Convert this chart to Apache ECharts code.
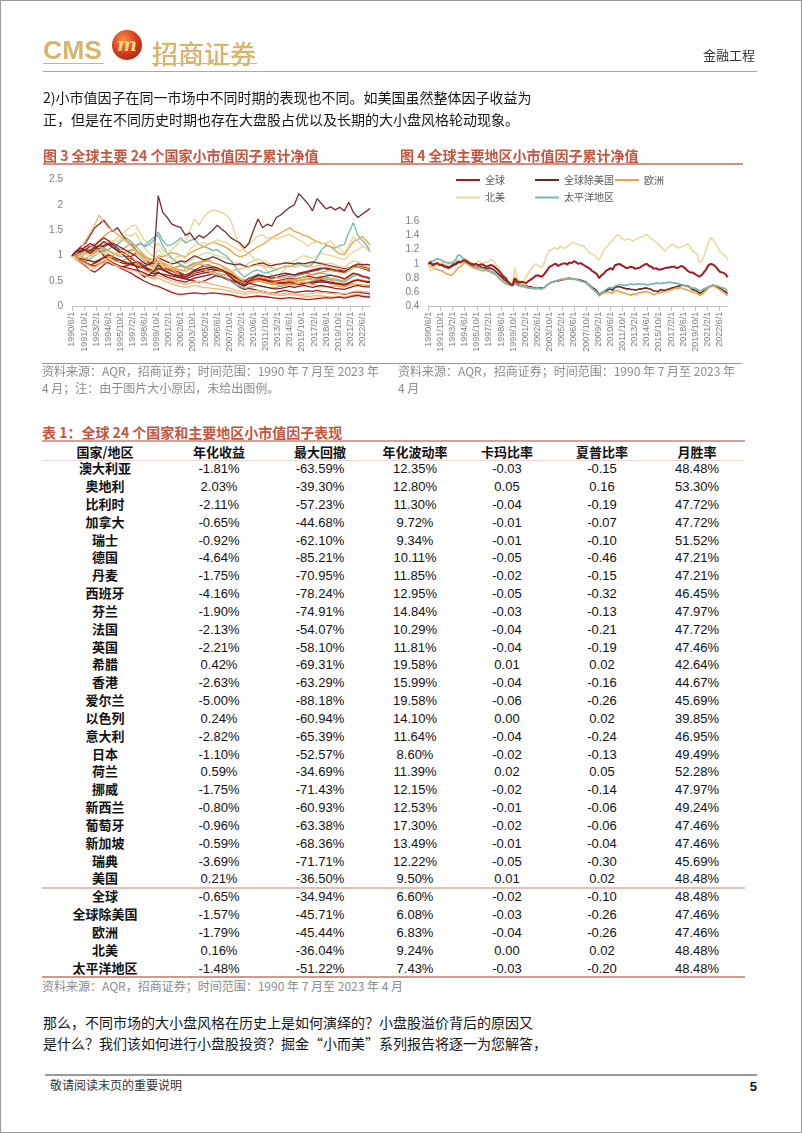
<!DOCTYPE html>
<html lang="zh-CN"><head><meta charset="utf-8"><title>小市值因子</title>
<script src="https://cdn.jsdelivr.net/npm/echarts/dist/echarts.min.js"></script>
<style>
html,body{margin:0;padding:0;background:#fff;}
#page{position:relative;width:802px;height:1133px;overflow:hidden;background:#fff;font-family:"Noto Sans CJK SC","Liberation Sans",sans-serif;}
#chart{position:absolute;left:0;top:0;width:802px;height:400px;}
.t{position:absolute;white-space:nowrap;}
.ln{position:absolute;}
#frame{position:absolute;left:0;top:0;width:802px;height:1133px;box-sizing:border-box;border:1px solid #9a9a9a;pointer-events:none;}
#logo{position:absolute;left:112px;top:30px;width:30px;height:30px;border-radius:50%;background:radial-gradient(circle at 38% 32%,#F7913F 0%,#D9401F 45%,#9E1A14 100%);color:#F7D57E;font:italic bold 19px "DejaVu Serif",serif;text-align:center;line-height:28px;}
</style></head><body><div id="page"><div id="chart"></div></div>
<script>
// ================= DATA =================
// monthly category labels 1990/6/1 .. 2023/4/1
const months = [];
for (let m = 0; m < 395; m++) { const t = 5 + m; months.push((1990 + Math.floor(t / 12)) + '/' + (t % 12 + 1) + '/1'); }
const STEP3 = 6; // Figure 3: one value every 6 months, last = 2023/4
const STEP4 = 3; // Figure 4: one value every 3 months, last = 2023/4

// Figure 4 : regions
const regionNames = ['全球', '全球除美国', '欧洲', '北美', '太平洋地区'];
const rGlobal = [1.00,1.02,0.98,1.00,1.01,0.98,0.99,0.97,0.96,0.95,
  0.97,0.99,1.00,1.03,1.02,1.04,1.05,1.03,1.01,1.00,
  0.99,1.00,0.98,0.99,0.99,0.97,0.96,0.98,0.98,0.96,
  0.93,0.90,0.86,0.82,0.80,0.75,0.72,0.70,0.80,0.76,
  0.74,0.75,0.74,0.73,0.76,0.78,0.80,0.83,0.84,0.83,
  0.82,0.86,0.90,0.95,0.97,0.99,1.00,0.97,0.99,1.00,
  1.01,0.99,1.02,1.01,1.04,1.02,1.00,1.01,0.99,0.97,
  0.95,0.93,0.90,0.88,0.86,0.80,0.84,0.86,0.90,0.92,
  0.94,0.92,0.98,0.99,1.00,0.98,0.96,0.94,0.95,0.96,
  0.95,0.93,0.94,0.95,0.97,0.99,1.00,0.97,0.96,0.93,
  0.94,0.92,0.92,0.93,0.94,0.95,0.95,0.96,0.96,0.94,
  0.95,0.97,0.96,0.93,0.90,0.88,0.88,0.86,0.84,0.82,
  0.84,0.88,0.92,0.98,1.00,0.99,0.97,0.93,0.89,0.88,
  0.87,0.84,0.81];
const rExUS = [1.00,1.01,0.99,1.00,1.01,0.99,0.98,0.96,0.95,0.94,
  0.96,0.98,0.99,1.02,1.02,1.04,1.05,1.02,1.00,0.98,
  0.97,0.96,0.95,0.96,0.95,0.94,0.93,0.94,0.93,0.91,
  0.88,0.85,0.82,0.79,0.76,0.73,0.71,0.70,0.76,0.73,
  0.71,0.71,0.70,0.69,0.68,0.68,0.67,0.66,0.67,0.66,
  0.66,0.67,0.70,0.72,0.74,0.75,0.76,0.76,0.77,0.78,
  0.78,0.79,0.80,0.79,0.79,0.78,0.78,0.77,0.76,0.75,
  0.72,0.70,0.67,0.65,0.62,0.57,0.59,0.61,0.62,0.64,
  0.65,0.63,0.67,0.68,0.68,0.67,0.66,0.65,0.65,0.64,
  0.64,0.63,0.64,0.65,0.65,0.66,0.66,0.65,0.64,0.62,
  0.62,0.61,0.64,0.63,0.63,0.64,0.65,0.66,0.67,0.68,
  0.69,0.70,0.70,0.69,0.69,0.67,0.64,0.63,0.62,0.59,
  0.60,0.62,0.64,0.67,0.69,0.70,0.69,0.67,0.66,0.64,
  0.62,0.60,0.58];
const rEurope = [1.00,0.97,0.95,0.93,0.92,0.91,0.90,0.88,0.86,0.85,
  0.84,0.86,0.90,0.94,0.96,0.99,1.02,1.00,0.98,0.96,
  0.94,0.93,0.92,0.91,0.90,0.91,0.90,0.89,0.87,0.86,
  0.84,0.81,0.78,0.76,0.74,0.72,0.70,0.69,0.80,0.75,
  0.72,0.71,0.70,0.68,0.67,0.66,0.66,0.65,0.66,0.65,
  0.65,0.67,0.70,0.72,0.74,0.75,0.76,0.77,0.78,0.79,
  0.79,0.80,0.80,0.79,0.78,0.78,0.77,0.76,0.75,0.74,
  0.71,0.68,0.65,0.63,0.60,0.56,0.58,0.59,0.60,0.61,
  0.60,0.59,0.62,0.63,0.61,0.60,0.59,0.58,0.57,0.56,
  0.58,0.57,0.59,0.60,0.60,0.61,0.61,0.60,0.58,0.57,
  0.58,0.59,0.60,0.61,0.61,0.62,0.63,0.64,0.65,0.66,
  0.66,0.67,0.65,0.64,0.63,0.62,0.60,0.60,0.59,0.56,
  0.57,0.60,0.63,0.66,0.68,0.69,0.68,0.66,0.64,0.62,
  0.59,0.57,0.55];
const rNAm = [1.00,0.90,0.92,0.97,1.00,1.02,1.02,1.00,0.98,1.00,
  1.02,1.04,1.05,1.06,1.04,1.06,1.08,1.06,1.03,1.01,
  1.01,0.99,1.04,1.02,1.00,1.02,1.02,1.05,1.06,1.03,
  0.98,0.94,0.90,0.84,0.80,0.76,0.72,0.74,0.95,0.80,
  0.76,0.74,0.76,0.82,0.88,0.92,0.97,1.00,0.98,0.96,
  0.95,1.02,1.12,1.18,1.20,1.22,1.22,1.20,1.25,1.23,
  1.22,1.24,1.26,1.30,1.30,1.28,1.27,1.25,1.26,1.22,
  1.18,1.15,1.14,1.12,1.08,1.05,1.12,1.18,1.22,1.26,
  1.30,1.32,1.38,1.40,1.40,1.36,1.33,1.34,1.35,1.33,
  1.32,1.34,1.35,1.37,1.38,1.40,1.41,1.38,1.35,1.33,
  1.30,1.28,1.25,1.20,1.18,1.22,1.25,1.27,1.26,1.24,
  1.22,1.24,1.24,1.26,1.28,1.25,1.18,1.16,1.14,1.02,
  1.04,1.10,1.20,1.30,1.37,1.34,1.28,1.24,1.18,1.14,
  1.12,1.10,1.05];
const rPacific = [1.00,1.04,1.03,1.06,1.07,1.06,1.05,1.03,1.02,1.01,
  1.02,1.01,1.06,1.12,1.12,1.08,1.06,1.04,1.02,1.00,
  0.98,0.96,0.95,0.94,0.93,0.92,0.91,0.90,0.89,0.87,
  0.84,0.80,0.77,0.74,0.72,0.71,0.70,0.69,0.72,0.70,
  0.69,0.68,0.68,0.67,0.66,0.66,0.66,0.65,0.66,0.65,
  0.65,0.67,0.70,0.72,0.74,0.75,0.76,0.77,0.78,0.78,
  0.78,0.79,0.79,0.78,0.79,0.78,0.77,0.76,0.75,0.74,
  0.72,0.70,0.66,0.62,0.60,0.55,0.58,0.61,0.64,0.66,
  0.67,0.66,0.69,0.70,0.71,0.70,0.70,0.70,0.71,0.72,
  0.71,0.71,0.72,0.72,0.71,0.72,0.70,0.71,0.72,0.72,
  0.73,0.73,0.72,0.73,0.73,0.74,0.74,0.74,0.73,0.73,
  0.72,0.71,0.70,0.69,0.68,0.67,0.66,0.66,0.65,0.62,
  0.63,0.65,0.66,0.68,0.69,0.70,0.70,0.69,0.68,0.66,
  0.66,0.64,0.62];

// Figure 3 : 24 countries
const countryNames = ['澳大利亚','奥地利','比利时','加拿大','瑞士','德国','丹麦','西班牙','芬兰','法国','英国','希腊','香港','爱尔兰','以色列','意大利','日本','荷兰','挪威','新西兰','葡萄牙','新加坡','瑞典','美国'];
const cAUS = [1.00,0.96,1.05,1.10,1.02,1.08,1.18,1.25,1.30,1.20, 1.12,1.05,1.00,0.96,0.90,0.82,0.74,0.70,0.66,0.72, 0.74,0.70,0.72,0.78,0.80,0.76,0.82,0.86,0.84,0.80, 0.78,0.74,0.72,0.70,0.66,0.60,0.55,0.50,0.48,0.56, 0.60,0.64,0.62,0.58,0.55,0.57,0.56,0.58,0.60,0.58, 0.62,0.64,0.66,0.62,0.64,0.66,0.64,0.62,0.60,0.58, 0.55,0.60,0.64,0.62,0.58,0.57,0.55];
const cAUT = [1.00,1.10,1.08,1.12,1.10,1.16,1.20,1.18,1.22,1.25, 1.20,1.15,1.10,1.05,1.00,0.92,0.85,0.82,0.90,2.18, 1.85,1.75,1.62,1.58,1.55,1.40,1.45,1.32,1.40,1.35, 1.42,1.50,1.60,1.52,1.45,1.35,1.30,1.25,1.15,1.25, 1.50,1.72,1.55,1.62,1.58,1.75,1.80,1.88,1.95,2.00, 2.22,2.12,2.02,1.88,2.12,2.02,1.92,1.96,1.90,1.95, 1.88,2.05,1.85,1.75,1.82,1.88,1.93];
const cBEL = [1.00,0.95,0.92,0.96,0.90,0.86,0.92,0.98,1.02,0.96, 0.92,0.90,0.88,0.86,0.84,0.80,0.76,0.72,0.68,0.74, 0.72,0.70,0.74,0.78,0.82,0.76,0.80,0.84,0.88,0.90, 0.92,0.86,0.84,0.80,0.76,0.70,0.62,0.56,0.52,0.56, 0.58,0.60,0.56,0.54,0.52,0.50,0.48,0.50,0.52,0.50, 0.52,0.54,0.55,0.52,0.54,0.56,0.54,0.52,0.48,0.46, 0.44,0.48,0.52,0.54,0.52,0.50,0.50];
const cCAN = [1.00,1.04,1.08,1.10,1.06,1.12,1.18,1.25,1.22,1.30, 1.28,1.35,1.42,1.38,1.45,1.30,1.15,1.05,0.98,1.12, 1.02,0.98,0.94,0.90,0.88,0.84,0.90,0.96,1.00,1.04, 1.06,1.02,1.00,0.98,0.95,0.90,0.86,0.82,0.80,0.86, 0.90,0.94,0.90,0.86,0.84,0.82,0.84,0.86,0.88,0.84, 0.82,0.80,0.84,0.86,0.88,0.86,0.84,0.86,0.82,0.80, 0.78,0.84,0.90,0.88,0.84,0.82,0.81];
const cCHE = [1.00,1.02,0.98,1.05,1.10,1.08,1.14,1.20,1.25,1.18, 1.10,1.04,1.00,0.94,0.90,0.86,0.80,0.74,0.70,0.76, 0.72,0.68,0.64,0.62,0.58,0.55,0.52,0.50,0.48,0.50, 0.54,0.58,0.62,0.60,0.56,0.52,0.48,0.47,0.50,0.55, 0.58,0.62,0.60,0.58,0.56,0.58,0.60,0.62,0.64,0.62, 0.66,0.68,0.70,0.72,0.74,0.76,0.74,0.72,0.70,0.72, 0.70,0.76,0.80,0.82,0.78,0.76,0.74];
const cDEU = [1.00,1.05,1.10,1.15,1.20,1.25,1.18,1.10,1.04,0.98, 0.92,0.86,0.80,0.74,0.70,0.66,0.62,0.58,0.54,0.56, 0.52,0.48,0.45,0.42,0.40,0.38,0.40,0.42,0.40,0.38, 0.37,0.36,0.35,0.34,0.32,0.30,0.28,0.26,0.24,0.26, 0.27,0.28,0.26,0.25,0.24,0.23,0.22,0.23,0.24,0.23, 0.22,0.21,0.20,0.21,0.22,0.21,0.20,0.19,0.19,0.20, 0.19,0.21,0.23,0.24,0.22,0.21,0.21];
const cDNK = [1.00,0.94,0.98,1.05,1.12,1.20,1.30,1.38,1.45,1.50, 1.42,1.35,1.28,1.20,1.12,1.05,0.95,0.88,0.84,0.92, 0.86,0.82,0.78,0.74,0.72,0.70,0.74,0.80,0.84,0.88, 0.90,0.86,0.84,0.80,0.74,0.66,0.58,0.50,0.46,0.52, 0.56,0.58,0.54,0.50,0.46,0.44,0.46,0.48,0.50,0.48, 0.50,0.52,0.54,0.56,0.58,0.60,0.58,0.56,0.54,0.52, 0.50,0.56,0.62,0.64,0.60,0.58,0.56];
const cESP = [1.00,0.92,0.86,0.80,0.72,0.68,0.74,0.82,0.90,0.86, 0.82,0.78,0.80,0.84,0.88,0.82,0.76,0.70,0.64,0.68, 0.62,0.58,0.55,0.52,0.50,0.48,0.52,0.56,0.58,0.60, 0.62,0.64,0.60,0.58,0.54,0.50,0.44,0.38,0.34,0.36, 0.34,0.32,0.30,0.28,0.27,0.28,0.30,0.32,0.30,0.28, 0.29,0.30,0.31,0.30,0.32,0.30,0.29,0.28,0.27,0.26, 0.24,0.26,0.28,0.29,0.27,0.26,0.25];
const cFIN = [1.00,0.96,0.92,0.88,0.94,1.00,1.06,1.12,1.10,1.05, 1.00,0.98,1.02,1.10,1.18,1.24,1.20,1.28,1.36,1.40, 1.20,1.05,0.95,0.88,0.82,0.78,0.74,0.72,0.70,0.68, 0.66,0.64,0.62,0.60,0.56,0.50,0.44,0.40,0.36,0.38, 0.40,0.42,0.40,0.38,0.37,0.38,0.40,0.42,0.44,0.43, 0.45,0.47,0.48,0.50,0.52,0.54,0.55,0.53,0.52,0.50, 0.48,0.54,0.60,0.62,0.58,0.56,0.53];
const cFRA = [1.00,0.97,0.94,0.92,0.90,0.88,0.92,0.96,0.98,0.94, 0.90,0.86,0.84,0.82,0.80,0.78,0.76,0.74,0.70,0.75, 0.72,0.68,0.64,0.62,0.60,0.58,0.62,0.66,0.68,0.70, 0.72,0.74,0.72,0.70,0.68,0.64,0.58,0.52,0.48,0.50, 0.52,0.54,0.52,0.50,0.48,0.47,0.46,0.47,0.48,0.46, 0.45,0.46,0.47,0.46,0.48,0.49,0.48,0.46,0.45,0.44, 0.42,0.45,0.50,0.52,0.50,0.49,0.49];
const cGBR = [1.00,0.96,0.90,0.86,0.82,0.80,0.84,0.88,0.86,0.82, 0.80,0.78,0.76,0.74,0.72,0.70,0.66,0.62,0.60,0.66, 0.64,0.62,0.60,0.58,0.56,0.54,0.58,0.62,0.64,0.66, 0.68,0.70,0.72,0.70,0.68,0.62,0.56,0.50,0.46,0.50, 0.52,0.55,0.54,0.52,0.50,0.48,0.47,0.46,0.47,0.45, 0.44,0.45,0.46,0.48,0.50,0.52,0.50,0.48,0.46,0.45, 0.44,0.47,0.50,0.52,0.50,0.48,0.48];
const cGRC = [1.00,1.05,1.12,1.08,1.02,1.10,1.18,1.25,1.30,1.28, 1.35,1.42,1.50,1.58,1.60,1.45,1.30,1.22,1.15,1.25, 1.10,1.05,1.12,1.20,1.30,1.28,1.50,1.72,1.60,1.75, 1.85,1.90,1.88,1.85,1.80,1.70,1.40,1.20,1.10,1.05, 0.95,0.88,0.80,0.70,0.62,0.58,0.65,0.75,0.85,0.90, 0.95,1.00,0.98,0.95,1.00,1.05,1.02,1.00,0.98,0.95, 0.92,1.00,1.08,1.12,1.18,1.16,1.15];
const cHKG = [1.00,1.02,0.98,0.94,1.00,1.06,1.10,1.05,0.98,0.92, 0.88,0.90,0.94,0.98,0.90,0.80,0.72,0.68,0.72,0.80, 0.76,0.72,0.70,0.66,0.62,0.60,0.64,0.68,0.70,0.72, 0.70,0.68,0.66,0.64,0.62,0.58,0.52,0.46,0.42,0.46, 0.48,0.50,0.48,0.46,0.44,0.43,0.42,0.44,0.45,0.44, 0.46,0.48,0.46,0.44,0.42,0.40,0.39,0.40,0.41,0.40, 0.39,0.42,0.45,0.44,0.43,0.42,0.42];
const cIRL = [1.00,1.04,1.08,1.12,1.18,1.20,1.10,1.00,0.92,0.86, 0.80,0.74,0.70,0.66,0.60,0.55,0.50,0.46,0.42,0.40, 0.36,0.32,0.28,0.25,0.24,0.25,0.26,0.27,0.26,0.25, 0.26,0.27,0.26,0.25,0.24,0.23,0.21,0.19,0.18,0.19, 0.20,0.21,0.20,0.19,0.18,0.17,0.16,0.17,0.18,0.17, 0.16,0.15,0.14,0.15,0.16,0.17,0.18,0.17,0.18,0.19, 0.17,0.19,0.21,0.22,0.20,0.19,0.19];
const cISR = [1.00,1.06,1.12,1.18,1.20,1.15,1.10,1.08,1.12,1.18, 1.22,1.30,1.35,1.28,1.20,1.25,1.18,1.22,1.30,1.47, 1.30,1.20,1.22,1.28,1.35,1.25,1.30,1.32,1.22,1.18, 1.15,1.10,1.12,1.05,1.00,0.90,0.78,0.66,0.58,0.64, 0.70,0.72,0.68,0.66,0.70,0.72,0.76,0.80,0.78,0.82, 0.85,0.80,0.78,0.84,0.96,1.12,1.20,1.18,1.15,1.20, 1.22,1.45,1.65,1.40,1.30,1.20,1.08];
const cITA = [1.00,0.95,0.90,0.86,0.82,0.85,0.90,0.96,1.02,0.98, 0.94,0.90,0.86,0.84,0.80,0.76,0.80,0.84,0.78,0.82, 0.78,0.74,0.70,0.66,0.64,0.62,0.66,0.70,0.72,0.74, 0.76,0.78,0.76,0.72,0.68,0.62,0.54,0.48,0.44,0.46, 0.44,0.42,0.40,0.38,0.36,0.35,0.36,0.38,0.40,0.38, 0.40,0.42,0.40,0.38,0.40,0.42,0.40,0.38,0.36,0.35, 0.34,0.37,0.40,0.42,0.40,0.39,0.39];
const cJPN = [1.00,1.10,1.18,1.25,1.40,1.55,1.62,1.70,1.58,1.48, 1.55,1.42,1.30,1.22,1.12,1.00,0.90,0.86,0.84,0.96, 0.92,0.88,0.84,0.86,0.90,0.88,0.94,1.00,0.96,0.92, 0.94,0.98,0.95,0.90,0.86,0.84,0.82,0.84,0.80,0.78, 0.82,0.84,0.86,0.82,0.80,0.83,0.84,0.86,0.85,0.84, 0.86,0.84,0.86,0.88,0.86,0.84,0.82,0.80,0.78,0.76, 0.74,0.76,0.80,0.78,0.75,0.72,0.70];
const cNLD = [1.00,0.98,1.02,1.06,1.04,1.08,1.12,1.16,1.10,1.06, 1.02,1.04,1.08,1.12,1.10,1.05,0.98,0.95,0.92,1.00, 0.98,1.02,1.06,1.04,1.00,0.98,1.05,1.10,1.14,1.18, 1.22,1.26,1.24,1.20,1.16,1.10,1.02,0.98,1.00,1.06, 1.12,1.18,1.22,1.28,1.35,1.40,1.45,1.50,1.55,1.48, 1.45,1.40,1.38,1.32,1.28,1.25,1.22,1.18,1.10,1.04, 1.02,1.15,1.28,1.32,1.38,1.28,1.21];
const cNOR = [1.00,1.04,1.10,1.18,1.24,1.20,1.28,1.35,1.30,1.22, 1.15,1.08,1.02,0.98,1.05,1.00,0.90,0.82,0.78,0.86, 0.80,0.76,0.74,0.70,0.66,0.62,0.66,0.72,0.76,0.80, 0.82,0.78,0.76,0.72,0.66,0.58,0.50,0.44,0.40,0.46, 0.50,0.54,0.52,0.50,0.48,0.50,0.52,0.54,0.56,0.54, 0.56,0.58,0.60,0.58,0.56,0.58,0.60,0.62,0.60,0.58, 0.54,0.60,0.66,0.64,0.60,0.58,0.56];
const cNZL = [1.00,1.05,1.15,1.30,1.45,1.60,1.80,1.65,1.55,1.50, 1.42,1.35,1.30,1.20,1.10,1.00,0.90,0.82,0.78,0.84, 0.80,0.76,0.74,0.72,0.70,0.74,0.78,0.82,0.86,0.82, 0.80,0.78,0.76,0.74,0.72,0.70,0.72,0.74,0.76,0.78, 0.80,0.82,0.80,0.78,0.76,0.74,0.76,0.78,0.80,0.78, 0.80,0.82,0.80,0.78,0.80,0.82,0.80,0.78,0.76,0.74, 0.72,0.76,0.80,0.82,0.80,0.78,0.77];
const cPRT = [1.00,0.95,0.90,0.85,0.80,0.78,0.84,0.90,0.96,1.00, 1.06,1.12,1.18,1.24,1.20,1.10,1.00,0.92,0.86,0.90, 0.84,0.78,0.72,0.66,0.62,0.60,0.64,0.68,0.72,0.74, 0.76,0.78,0.74,0.70,0.66,0.60,0.54,0.50,0.46,0.48, 0.50,0.52,0.50,0.48,0.46,0.48,0.50,0.52,0.54,0.52, 0.56,0.58,0.62,0.64,0.66,0.68,0.70,0.72,0.70,0.68, 0.66,0.70,0.76,0.78,0.76,0.74,0.73];
const cSGP = [1.00,1.08,1.15,1.10,1.05,1.12,1.20,1.28,1.22,1.16, 1.10,1.04,0.96,0.88,0.80,0.66,0.58,0.62,0.70,0.82, 0.74,0.68,0.64,0.60,0.62,0.58,0.64,0.70,0.72,0.74, 0.76,0.78,0.76,0.72,0.66,0.58,0.50,0.44,0.42,0.50, 0.56,0.62,0.60,0.58,0.60,0.62,0.64,0.66,0.64,0.62, 0.64,0.66,0.68,0.70,0.72,0.74,0.76,0.74,0.72,0.70, 0.68,0.74,0.80,0.84,0.82,0.83,0.82];
const cSWE = [1.00,0.92,0.85,0.78,0.72,0.76,0.82,0.86,0.90,0.84, 0.80,0.76,0.74,0.72,0.70,0.66,0.62,0.58,0.56,0.62, 0.58,0.54,0.50,0.48,0.46,0.44,0.46,0.48,0.50,0.48, 0.46,0.44,0.42,0.40,0.38,0.36,0.32,0.30,0.28,0.30, 0.31,0.32,0.30,0.28,0.27,0.26,0.25,0.26,0.27,0.26, 0.25,0.24,0.25,0.26,0.27,0.28,0.27,0.26,0.25,0.26, 0.25,0.27,0.30,0.31,0.30,0.29,0.29];
const cUSA = [1.00,0.93,1.00,1.03,0.98,1.02,1.05,1.05,1.08,1.03, 1.02,1.05,1.01,1.03,1.07,0.99,0.91,0.81,0.73,0.96, 0.77,0.77,0.89,0.98,0.99,0.96,1.13,1.21,1.23,1.26, 1.23,1.27,1.31,1.28,1.27,1.19,1.15,1.09,1.13,1.23, 1.31,1.39,1.41,1.34,1.36,1.33,1.36,1.39,1.42,1.36, 1.31,1.26,1.19,1.26,1.27,1.23,1.25,1.29,1.19,1.15, 1.05,1.21,1.37,1.29,1.19,1.13,1.07];
const countrySeries = [cAUS,cAUT,cBEL,cCAN,cCHE,cDEU,cDNK,cESP,cFIN,cFRA,cGBR,cGRC,cHKG,cIRL,cISR,cITA,cJPN,cNLD,cNOR,cNZL,cPRT,cSGP,cSWE,cUSA];
const regionSeries = [rGlobal, rExUS, rEurope, rNAm, rPacific];

// Table 1
const tblNames = countryNames.concat(regionNames);
const annRet = [-1.81,2.03,-2.11,-0.65,-0.92,-4.64,-1.75,-4.16,-1.90,-2.13,-2.21,0.42,-2.63,-5.00,0.24,-2.82,-1.10,0.59,-1.75,-0.80,-0.96,-0.59,-3.69,0.21,-0.65,-1.57,-1.79,0.16,-1.48];
const maxDD = [-63.59,-39.30,-57.23,-44.68,-62.10,-85.21,-70.95,-78.24,-74.91,-54.07,-58.10,-69.31,-63.29,-88.18,-60.94,-65.39,-52.57,-34.69,-71.43,-60.93,-63.38,-68.36,-71.71,-36.50,-34.94,-45.71,-45.44,-36.04,-51.22];
const annVol = [12.35,12.80,11.30,9.72,9.34,10.11,11.85,12.95,14.84,10.29,11.81,19.58,15.99,19.58,14.10,11.64,8.60,11.39,12.15,12.53,17.30,13.49,12.22,9.50,6.60,6.08,6.83,9.24,7.43];
const calmar = [-0.03,0.05,-0.04,-0.01,-0.01,-0.05,-0.02,-0.05,-0.03,-0.04,-0.04,0.01,-0.04,-0.06,0.00,-0.04,-0.02,0.02,-0.02,-0.01,-0.02,-0.01,-0.05,0.01,-0.02,-0.03,-0.04,0.00,-0.03];
const sharpe = [-0.15,0.16,-0.19,-0.07,-0.10,-0.46,-0.15,-0.32,-0.13,-0.21,-0.19,0.02,-0.16,-0.26,0.02,-0.24,-0.13,0.05,-0.14,-0.06,-0.06,-0.04,-0.30,0.02,-0.10,-0.26,-0.26,0.02,-0.20];
const winRate = [48.48,53.30,47.72,47.72,51.52,47.21,47.21,46.45,47.97,47.72,47.46,42.64,44.67,45.69,39.85,46.95,49.49,52.28,47.97,49.24,47.46,47.46,45.69,48.48,48.48,47.46,47.46,48.48,48.48];
const tblHeader = ['国家/地区','年化收益','最大回撤','年化波动率','卡玛比率','夏普比率','月胜率'];

// ================= STYLE =================
const cT='#74B8AF', cM='#7A2A2C', cO='#E9A245', cB='#E6D592', cR='#B4161C', cL='#F2B97A', cD='#8E1F22';
const c3Colors = [cT,cM,cO,cB,cR,cL,cO,cD,cT,cM,cR,cB,cO,cR,cT,cD,cM,cO,cR,cL,cO,cM,cL,cB];
const c4Colors = ['#A2191F','#6B2326','#EBA34A','#E9DB9E','#72B8B0'];
const c4Width = [2,1.6,1.6,1.6,1.6];
const legPos = [[456,175],[535,175],[615,175],[456,192.5],[535,192.5]];

// ================= PAGE TEXT =================
const page = document.getElementById('page');
function T(txt, x, y, css, w, align) {
  const d = document.createElement('div'); d.className = 't'; d.textContent = txt;
  d.style.cssText += `left:${x}px;top:${y - 10}px;height:20px;line-height:20px;` + (w ? `width:${w}px;text-align:${align || 'center'};` : '') + (css || '');
  page.appendChild(d); return d;
}
function L(x1, y, x2, h, color) {
  const d = document.createElement('div'); d.className = 'ln';
  d.style.cssText = `left:${x1}px;top:${y - h / 2}px;width:${x2 - x1}px;height:${h}px;background:${color};`;
  page.appendChild(d);
}
const GOLD = '#D9B56C';
T('CMS', 43, 45, `font:bold 26.5px "Liberation Sans";color:${GOLD};`);
const logo = document.createElement('div'); logo.id = 'logo'; logo.textContent = 'm'; page.appendChild(logo);
T('招商证券', 152, 44, `font:500 26px "Noto Sans CJK SC";color:${GOLD};`);
L(43, 63.5, 104, 1.5, GOLD); L(152, 63.5, 257, 1.5, GOLD);
T('金融工程', 703, 55, 'font:13px "Noto Sans CJK SC";color:#333;');
L(43, 71.8, 757, 1.2, '#DB9583');
const PCSS = 'font:14px "Noto Sans CJK SC";color:#151515;';
T('2)小市值因子在同一市场中不同时期的表现也不同。如美国虽然整体因子收益为', 43, 97, PCSS);
T('正，但是在不同历史时期也存在大盘股占优以及长期的大小盘风格轮动现象。', 43, 119, PCSS);
const TCSS = 'font:bold 14px "Noto Sans CJK SC";color:#C4563F;';
T('图 3 全球主要 24 个国家小市值因子累计净值', 43, 155, TCSS);
T('图 4 全球主要地区小市值因子累计净值', 400, 155, TCSS);
L(43, 164, 743, 1.5, '#D4917F');
L(42, 363.5, 742, 1.5, '#C48776');
const SCSS = 'font:12px "Noto Sans CJK SC","Liberation Sans";color:#8C8C8C;';
T('资料来源：AQR，招商证券；时间范围：1990 年 7 月至 2023 年', 42, 372, SCSS);
T('4 月；注：由于图片大小原因，未给出图例。', 42, 389, SCSS);
T('资料来源：AQR，招商证券；时间范围：1990 年 7 月至 2023 年', 398, 372, SCSS);
T('4 月', 398, 389, SCSS);

// Table
T('表 1：全球 24 个国家和主要地区小市值因子表现', 42, 432, TCSS);
L(42, 441, 745, 2, '#D9A193');
const CX = [105, 219, 320, 415, 507, 602, 697];
tblHeader.forEach((h, j) => T(h, CX[j] - 60, 451.5, 'font:bold 13px "Noto Sans CJK SC";color:#111;', 120));
L(42, 460, 745, 1, '#F0D8D0');
const NCSS = 'font:13px "Liberation Sans";color:#111;';
const NOFF = 3; // numeric glyph baseline compensation
const pct = v => v.toFixed(2) + '%';
tblNames.forEach((n, i) => {
  const y = 468.3 + 17.83 * i;
  T(n, CX[0] - 60, y, 'font:bold 13px "Noto Sans CJK SC";color:#111;', 120);
  T(pct(annRet[i]), CX[1] - 60, y + NOFF, NCSS, 120);
  T(pct(maxDD[i]), CX[2] - 60, y + NOFF, NCSS, 120);
  T(pct(annVol[i]), CX[3] - 60, y + NOFF, NCSS, 120);
  T(calmar[i].toFixed(2), CX[4] - 60, y + NOFF, NCSS, 120);
  T(sharpe[i].toFixed(2), CX[5] - 60, y + NOFF, NCSS, 120);
  T(pct(winRate[i]), CX[6] - 60, y + NOFF, NCSS, 120);
});
L(42, 887.5, 745, 2, '#E6C0B2');
L(42, 977, 745, 2, '#D49A88');
T('资料来源：AQR，招商证券；时间范围：1990 年 7 月至 2023 年 4 月', 42, 987, SCSS);

T('那么，不同市场的大小盘风格在历史上是如何演绎的？小盘股溢价背后的原因又', 43, 1022, PCSS);
T('是什么？我们该如何进行小盘股投资？掘金“小而美”系列报告将逐一为您解答，', 43, 1043, PCSS);
L(45, 1075, 757, 1.5, '#9A9A9A');
T('敬请阅读末页的重要说明', 50, 1086, 'font:12px "Noto Sans CJK SC";color:#333;');
T('5', 657, 1086 + NOFF, 'font:bold 13px "Liberation Sans";color:#111;', 100, 'right');
const frame = document.createElement('div'); frame.id = 'frame'; page.appendChild(frame);

// ================= CHART =================
const pts = (vals, step) => vals.map((v, i) => [Math.min(i * step, months.length - 1), v]);
const AX = '#BFBFBF', LBL = '#7F7F7F';
function xAxisCfg(gi) {
  return { type: 'category', gridIndex: gi, data: months, boundaryGap: false,
    axisLine: { show: true, lineStyle: { color: AX, width: 1 } },
    axisTick: { show: true, interval: 15, length: 4, lineStyle: { color: AX } },
    axisLabel: { interval: 15, rotate: 90, fontSize: 9, color: LBL, margin: 5, fontFamily: 'Liberation Sans' },
    splitLine: { show: false } };
}
function yAxisCfg(gi, min, max, iv) {
  return { type: 'value', gridIndex: gi, min: min, max: max, interval: iv,
    axisLine: { show: false }, axisTick: { show: false }, splitLine: { show: false },
    axisLabel: { fontSize: 10, color: LBL, margin: 9, fontFamily: 'Liberation Sans' } };
}
const series = [];
countrySeries.forEach((vals, i) => series.push({
  name: countryNames[i], type: 'line', xAxisIndex: 0, yAxisIndex: 0, data: pts(vals, STEP3),
  symbol: 'none', silent: true, z: i === 1 ? 4 : 2,
  lineStyle: { width: 1.3, color: c3Colors[i] }, itemStyle: { color: c3Colors[i] } }));
regionSeries.forEach((vals, i) => series.push({
  name: regionNames[i], type: 'line', xAxisIndex: 1, yAxisIndex: 1, data: pts(vals, STEP4),
  symbol: 'none', silent: true, z: i === 0 ? 4 : 2,
  lineStyle: { width: c4Width[i], color: c4Colors[i] }, itemStyle: { color: c4Colors[i] } }));

const chart = echarts.init(document.getElementById('chart'), null, { renderer: 'canvas' });
chart.setOption({
  animation: false,
  backgroundColor: 'transparent',
  grid: [
    { left: 72, top: 179.3, width: 298, height: 127.4, containLabel: false, outerBoundsMode: 'none' },
    { left: 428.3, top: 221, width: 299, height: 85.7, containLabel: false, outerBoundsMode: 'none' }
  ],
  xAxis: [xAxisCfg(0), xAxisCfg(1)],
  yAxis: [yAxisCfg(0, 0, 2.5, 0.5), yAxisCfg(1, 0.4, 1.6, 0.2)],
  legend: regionNames.map((n, i) => ({
    data: [n], left: legPos[i][0], top: legPos[i][1], padding: 0, itemWidth: 24, itemHeight: 2,
    icon: 'rect', selectedMode: false,
    textStyle: { fontSize: 10, color: '#595959', fontFamily: 'Noto Sans CJK SC' } })),
  series: series
});
</script></body></html>
